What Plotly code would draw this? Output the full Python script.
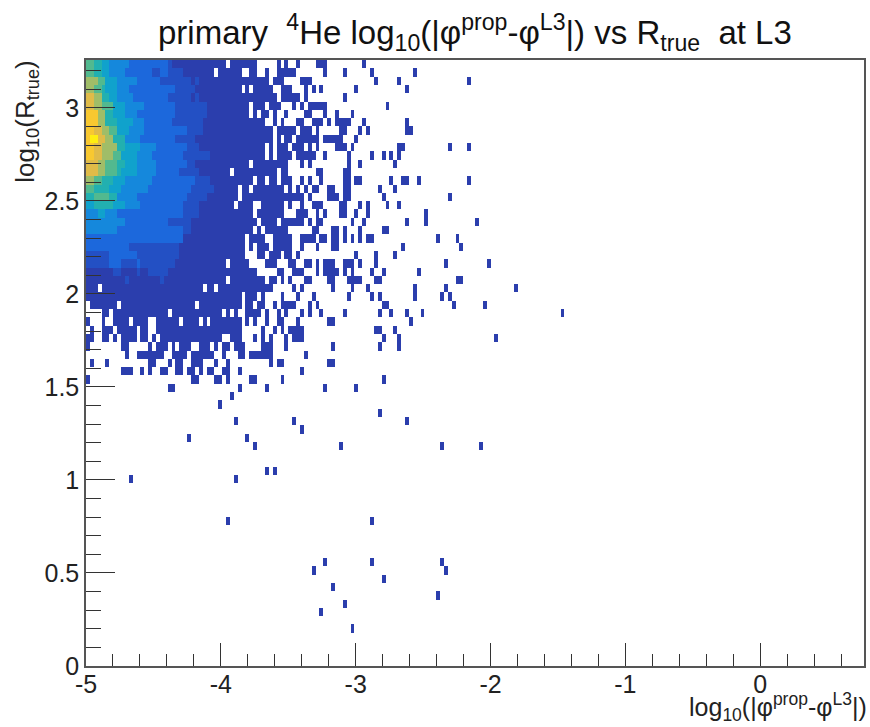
import plotly.graph_objects as go

# ---- axis labels and ticks ----
TITLE = "primary  <sup>4</sup>He log<sub>10</sub>(|φ<sup>prop</sup>-φ<sup>L3</sup>|) vs R<sub>true</sub>  at L3"
X_TITLE = "log<sub>10</sub>(|φ<sup>prop</sup>-φ<sup>L3</sup>|)"
Y_TITLE = "log<sub>10</sub>(R<sub>true</sub>)"
X_TICKS = [-5, -4, -3, -2, -1, 0]
X_TICK_LABELS = ["-5", "-4", "-3", "-2", "-1", "0"]
Y_TICKS = [0, 0.5, 1, 1.5, 2, 2.5, 3]
Y_TICK_LABELS = ["0", "0.5", "1", "1.5", "2", "2.5", "3"]

# ---- histogram binning ----
X_MIN, X_MAX, N_X = -5.0, 0.77, 200
Y_MIN, Y_MAX, N_Y = 0.0, 3.257, 73

# ---- occupied bins: row index -> column indices (lowest colour level) ----
OCCUPIED = {
    72: "0-35 37-43 49 51 54 59-61 71",
    71: "0-32 34-39 42-43 46 49-53 61 66 73 84",
    70: "0-46 48-50 55-57 74 80 98",
    69: "0-39 41 43-47 50-52 56 58 60 69 82",
    68: "0-48 50-54 56 66",
    67: "0-41 43-45 47-49 53 55 57-61 77",
    66: "0-41 43 45-46 48 51 56-57 61 64 68",
    65: "0-45 48 50 54-55 58-60 62 64-67 71 82",
    64: "0-47 49-53 55-57 59 65-66 70 72 82-83",
    63: "0-47 49 51-52 54-59 61-65 69",
    62: "0-45 47 49-51 53-55 57 59 64-66 68 80-81 93 98",
    61: "0-45 47 49-52 54-58 61 67 73 76 78 80",
    60: "0-41 43-51 55 57 67 70 79",
    59: "0-36 38-48 50-51 59-60 66-67",
    58: "0-42 44-45 47-48 50-52 55 57 60 66-67 69-70 78 81-82 85 98",
    57: "0-38 40-41 43-50 52 54 56 58-59 62-63 66-67 75 79",
    56: "0-38 40-55 57 62-64 66-67 76 93",
    55: "0-37 39-42 45-50 52 55 58-60 65-66 70 72 77 80",
    54: "0-42 44-50 54-56 59 61 65-66 69 72 87",
    53: "0-43 45-48 50-55 57 59-60 68 71 82 87 100",
    52: "0-42 44 46-51 58-59 63-64 66 70 76-77",
    51: "0-40 42-45 48-52 55-58 60-61 63-64 66 68 70 72-73 90 95",
    50: "0-40 42 44-46 48-52 55 59 63-64 81 96",
    49: "0-40 44-45 47-49 51-52 54 69 74 79",
    48: "0-35 37-41 46-48 52-53 56-57 59 61-63 66-68 70 74 92 103",
    47: "0-43 49-50 53-55 59 61-64 66 68 73 76 85",
    46: "0-35 37-45 47-48 50 52 56-57 62-63 67-70 74-75 95-96",
    45: "0-2 4-29 31-32 34-47 53 55 63 68 72 84 92 110",
    44: "0-39 41-43 45 50 54 58 67 73 75 84 91 93",
    43: "1-7 9-27 29-39 41-42 44-45 48 50-53 57 59 76-77 94 102",
    42: "4-5 7-20 22-34 36 38 41-44 46 49 51 55 57 60 66 75 78 82 86 122",
    41: "0 4 7-10 12-15 18-23 25-28 30 32-39 41 43 46 49-50 54 62-63 83",
    40: "1 4-6 8-12 14-15 18-39 45 48 50 52-55 74-75 79",
    39: "0-1 4-5 7 9-12 14-15 17 19-34 37-39 43 45 47 51 53-55 76 80 105",
    38: "0 9-10 16 18-20 22 24-26 29-31 33 35-36 38-40 45-47 51 63 75 80",
    37: "10 13-19 22-25 27-32 35 39-40 42-47 56",
    36: "1 5 16-17 21 23-24 27-29 33 36 47 49-50 62-63",
    35: "9-11 14 16 19-20 23-24 26-27 29 31-32 35-36 39 55",
    34: "0 27-28 33-34 36 42-43 50 76",
    33: "21-22 39 46 61 69",
    32: "37",
    31: "34",
    30: "75",
    29: "38 53 82",
    28: "55",
    27: "26 41",
    26: "43 65 91 101",
    23: "46 48",
    22: "11 38",
    17: "36 73",
    12: "61 73 91",
    11: "58 92",
    10: "76",
    9: "63",
    8: "90",
    7: "66",
    6: "60",
    4: "68",
}

# ---- higher-content bins: row index -> "columns:level" ----
LEVELS = {
    72: "0-1:7 2-3:6 4-5:5 6-10:4 11-20:3 21:2",
    71: "0-1:7 2-3:6 4-5:5 6-9:4 10-16:3 17-18:2 19-20:3 21-24:2",
    70: "0-2:8 3-4:7 5-7:5 8-12:4 13-18:3 19-26:2 28:2",
    69: "0-1:8 2-3:7 4:6 5-7:5 8-10:4 11-22:3 23-27:2",
    68: "0-1:9 2-3:8 4-5:6 6-7:5 8-11:4 12-20:3 21-26:2 28:2",
    67: "0-1:9 2-3:8 4-6:7 7-9:5 10-14:4 15-22:3 23-30:2",
    66: "0-2:10 3-4:8 5-6:6 7-9:5 10-12:4 13-22:3 23-30:2",
    65: "0-2:10 3-4:8 5-7:6 8-11:5 12-14:4 15-21:3 22-29:2",
    64: "0-1:10 2-3:9 4-5:8 6-7:7 8-10:5 11-14:4 15-25:3 26-29:2",
    63: "0:10 1-2:11 3-4:9 5-6:8 7-9:6 10-13:4 14-22:3 23-27:2",
    62: "0-1:10 2-3:9 4-7:8 8-9:6 10-13:5 14-17:4 18-25:3 26-28:2",
    61: "0-1:10 2-3:9 4-6:8 7-8:7 9-12:5 13-16:4 17-24:3 25-31:2",
    60: "0-2:9 3-4:8 5-7:7 8-9:6 10-12:5 13-17:4 18-25:3 26-27:2",
    59: "0-2:9 3-4:8 5-7:7 8:6 9-12:5 13-17:4 18-23:3 24-28:2",
    58: "0-1:8 2-3:7 4-6:6 7-9:5 10-16:4 17-27:3 28-31:2",
    57: "0-1:7 2-5:6 6-8:5 9-15:4 16-26:3 27-32:2",
    56: "0-1:6 2-5:7 6-7:6 8-12:4 13-25:3 26-30:2",
    55: "0-1:5 2-6:6 7-9:5 10-13:4 14-24:3 25-28:2",
    54: "0-2:4 3-4:5 5-7:4 8-24:3 25-28:2",
    53: "0-9:4 10-20:3 21-26:2",
    52: "0-7:4 8-24:3 25-26:2",
    51: "0-12:3 13-24:3",
    50: "0-10:3 11-23:2",
    49: "0-5:2 6-12:3 13-23:2",
    48: "0-5:2 6-8:3 9-12:2 13:3 14-22:2",
    47: "7-8:2 13:2 16-20:2",
    46: "10:2 19:2",
}

# ---- colours of the levels ----
LEVEL_COLORS = ["#2B3EAD", "#2350C4", "#1C68DC", "#1588DC", "#10A2CC", "#22B0B0",
                "#52B98F", "#A0BD68", "#E0BB48", "#F8C830", "#FFEE10"]


def parse_bins(text):
    out = []
    for part in text.split():
        col, _, lev = part.partition(":")
        a, _, b = col.partition("-")
        a = int(a)
        b = int(b) if b else a
        out.append((a, b, int(lev) if lev else 1))
    return out


z = [[None] * N_X for _ in range(N_Y)]
for table in (OCCUPIED, LEVELS):
    for row, text in table.items():
        for a, b, lev in parse_bins(text):
            for c in range(a, b + 1):
                z[row][c] = lev

dx = (X_MAX - X_MIN) / N_X
dy = (Y_MAX - Y_MIN) / N_Y
n = len(LEVEL_COLORS)
colorscale = []
for i, col in enumerate(LEVEL_COLORS):
    colorscale += [[i / n, col], [(i + 1) / n, col]]

fig = go.Figure(go.Heatmap(
    z=z, x0=X_MIN + dx / 2, dx=dx, y0=Y_MIN + dy / 2, dy=dy,
    zmin=0.5, zmax=n + 0.5, colorscale=colorscale, showscale=False, hoverongaps=False,
))

FONT = "Liberation Sans, Arial, sans-serif"
W, H = 870, 727
L, R, T, B = 85.5, 4, 60, 61
pw, ph = W - L - R, H - T - B
AX = "#555555"


def px(v):
    return (v - L) / pw


def py(v):
    return (H - B - v) / ph


fig.update_layout(
    width=W, height=H, autosize=False,
    margin=dict(l=L, r=R, t=T, b=B, pad=0),
    paper_bgcolor="white", plot_bgcolor="white",
    font=dict(family=FONT, color="#222222"),
    xaxis=dict(
        range=[X_MIN, X_MAX], tickmode="array", tickvals=X_TICKS, ticktext=X_TICK_LABELS,
        ticks="inside", ticklen=23, tickwidth=1, tickcolor="#333333", ticklabelstandoff=-5,
        tickfont=dict(size=25, family=FONT, color="#222222"),
        minor=dict(ticks="inside", ticklen=12, dtick=0.2, tick0=0, tickwidth=1, tickcolor="#333333", showgrid=False),
        showline=True, linecolor=AX, linewidth=1.5, mirror=True, showgrid=False, zeroline=False,
    ),
    yaxis=dict(
        range=[Y_MIN, Y_MAX], tickmode="array", tickvals=Y_TICKS, ticktext=Y_TICK_LABELS,
        ticks="inside", ticklen=29, tickwidth=1, tickcolor="#333333",
        tickfont=dict(size=25, family=FONT, color="#222222"),
        minor=dict(ticks="inside", ticklen=15, dtick=0.1, tick0=0, tickwidth=1, tickcolor="#333333", showgrid=False),
        showline=True, linecolor=AX, linewidth=1.5, mirror=True, showgrid=False, zeroline=False,
    ),
    annotations=[
        dict(text=TITLE, xref="paper", yref="paper", x=px(476), y=py(32), xanchor="center", yanchor="middle",
             showarrow=False, font=dict(size=33, family=FONT, color="#111111")),
        dict(text=X_TITLE, xref="paper", yref="paper", x=px(871), y=py(707), xanchor="right", yanchor="middle",
             showarrow=False, font=dict(size=25, family=FONT, color="#222222")),
        dict(text=Y_TITLE, xref="paper", yref="paper", x=px(25), y=py(122), xanchor="center", yanchor="middle",
             textangle=-90, showarrow=False, font=dict(size=26, family=FONT, color="#222222")),
    ],
)

fig.write_html("out.html", post_script="document.body.style.margin='0';",
               config={"displayModeBar": False})
